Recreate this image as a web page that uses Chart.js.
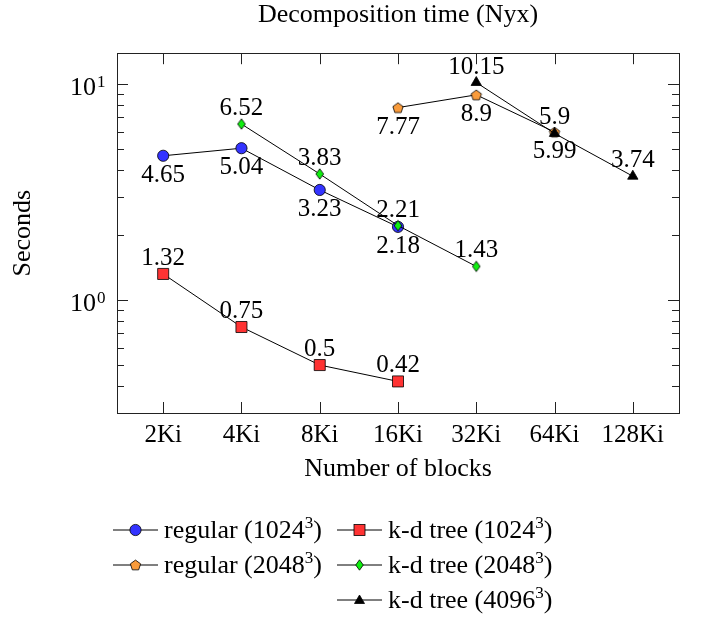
<!DOCTYPE html>
<html>
<head>
<meta charset="utf-8">
<script src="https://cdn.jsdelivr.net/npm/chart.js@4/dist/chart.umd.min.js"></script>
<style>
  html, body { margin: 0; padding: 0; background: #fff; }
  #wrap { position: relative; width: 704px; height: 620px;
          font-family: "Liberation Serif", "Times New Roman", serif; color: #000; }
  #chart { position: absolute; left: 0; top: 0; }
  .leg { position: absolute; height: 30px; display: flex; align-items: center;
         font-size: 26px; white-space: nowrap; }
  .leg svg { margin-right: 6px; flex: none; }
  .leg span { white-space: pre; }
  .leg sup { font-size: 17px; line-height: 0; vertical-align: baseline; position: relative; top: -10px; }
</style>
</head>
<body>
<div id="wrap">
  <canvas id="chart" width="704" height="620"></canvas>
  <div class="leg" style="left:113px; top:515px;"><svg id="lg0" width="45" height="20"></svg><span>regular (1024<sup>3</sup>)</span></div>
  <div class="leg" style="left:337px; top:515px;"><svg id="lg1" width="45" height="20"></svg><span>k-d tree (1024<sup>3</sup>)</span></div>
  <div class="leg" style="left:113px; top:550px;"><svg id="lg2" width="45" height="20"></svg><span>regular (2048<sup>3</sup>)</span></div>
  <div class="leg" style="left:337px; top:550px;"><svg id="lg3" width="45" height="20"></svg><span>k-d tree (2048<sup>3</sup>)</span></div>
  <div class="leg" style="left:337px; top:585px;"><svg id="lg4" width="45" height="20"></svg><span>k-d tree (4096<sup>3</sup>)</span></div>
</div>

<script>
// ─────────────────────────────────────────
// DATA
// ─────────────────────────────────────────

const blocks = ["2Ki", "4Ki", "8Ki", "16Ki", "32Ki", "64Ki", "128Ki"];

const regular1024 = [4.65, 5.04, 3.23, 2.18, null, null, null];
const kdtree1024  = [1.32, 0.75, 0.5, 0.42, null, null, null];
const regular2048 = [null, null, null, 7.77, 8.9, 5.99, null];
const kdtree2048  = [null, 6.52, 3.83, 2.21, 1.43, null, null];
const kdtree4096  = [null, null, null, null, 10.15, 5.9, 3.74];

const yMajorTicks = [1, 10];
const yMinorTicks = [0.4, 0.5, 0.6, 0.7, 0.8, 0.9, 2, 3, 4, 5, 6, 7, 8, 9];

const FONT = "'Liberation Serif', 'Times New Roman', serif";

// ─────────────────────────────────────────
// MARKERS
// ─────────────────────────────────────────

function pentagonPath(ctx, cx, cy, r) {
  ctx.beginPath();
  for (let i = 0; i < 5; i++) {
    const a = -Math.PI / 2 + i * 2 * Math.PI / 5;
    const px = cx + r * Math.cos(a), py = cy + r * Math.sin(a);
    i ? ctx.lineTo(px, py) : ctx.moveTo(px, py);
  }
  ctx.closePath();
}

function makeMarker(kind) {
  const c = document.createElement("canvas");
  c.width = 16; c.height = 16;
  const ctx = c.getContext("2d");
  ctx.lineWidth = 0.8;
  ctx.strokeStyle = "#000";
  if (kind === "pentagon") {
    pentagonPath(ctx, 8, 8.6, 5.4);
    ctx.fillStyle = "#f99b3b";
  } else {
    ctx.beginPath();
    ctx.moveTo(8, 2.8); ctx.lineTo(11.8, 8); ctx.lineTo(8, 13.2); ctx.lineTo(4.2, 8);
    ctx.closePath();
    ctx.fillStyle = "#10ee10";
  }
  ctx.fill(); ctx.stroke();
  return c;
}

const pentagonImg = makeMarker("pentagon");
const diamondImg  = makeMarker("diamond");

// ─────────────────────────────────────────
// PLUGINS: frame, ticks, labels
// ─────────────────────────────────────────

const frame = {
  id: "frame",
  afterDraw(chart) {
    const { ctx, chartArea: a, scales: { x, y } } = chart;
    ctx.save();
    ctx.strokeStyle = "#222";
    ctx.lineWidth = 1;
    ctx.beginPath();

    // x ticks top + bottom
    for (let i = 0; i < blocks.length; i++) {
      const px = Math.round(x.getPixelForValue(i)) + 0.5;
      ctx.moveTo(px, a.top); ctx.lineTo(px, a.top + 11);
      ctx.moveTo(px, a.bottom); ctx.lineTo(px, a.bottom - 11);
    }
    // y ticks left + right
    yMajorTicks.concat(yMinorTicks).forEach(v => {
      const len = yMajorTicks.includes(v) ? 11 : 7;
      const py = Math.round(y.getPixelForValue(v)) + 0.5;
      ctx.moveTo(a.left, py); ctx.lineTo(a.left + len, py);
      ctx.moveTo(a.right, py); ctx.lineTo(a.right - len, py);
    });
    ctx.stroke();

    ctx.strokeRect(Math.round(a.left) + 0.5, Math.round(a.top) + 0.5,
                   Math.round(a.right - a.left), Math.round(a.bottom - a.top));

    // y tick labels 10^0, 10^1
    ctx.fillStyle = "#000";
    yMajorTicks.forEach(v => {
      const py = y.getPixelForValue(v);
      ctx.font = "26px " + FONT;
      ctx.textAlign = "right";
      ctx.textBaseline = "alphabetic";
      ctx.fillText("10", 96, py + 11);
      ctx.font = "17px " + FONT;
      ctx.textAlign = "left";
      ctx.fillText(String(Math.round(Math.log10(v))), 97, py + 3);
    });
    ctx.restore();
  }
};

const pointLabels = {
  id: "pointLabels",
  afterDatasetsDraw(chart) {
    const { ctx, scales: { x, y } } = chart;
    ctx.save();
    ctx.font = "25px " + FONT;
    ctx.fillStyle = "#000";
    ctx.textAlign = "center";
    ctx.textBaseline = "alphabetic";
    chart.data.datasets.forEach(ds => {
      ds.data.forEach(p => {
        const px = x.getPixelForValue(p.x);
        const py = y.getPixelForValue(p.y);
        const dy = ds.labelPos === "below" ? 26 : -9;
        ctx.fillText(String(p.y), px, py + dy);
      });
    });
    ctx.restore();
  }
};

// ─────────────────────────────────────────
// CHART
// ─────────────────────────────────────────

function points(values) {
  return values.map((v, i) => ({ x: i, y: v })).filter(p => p.y !== null);
}

const datasets = [
  { label: "regular (1024³)", data: points(regular1024), pointStyle: "circle",
    pointRadius: 5.6, backgroundColor: "#3333ff", labelPos: "below", order: 5 },
  { label: "k-d tree (1024³)", data: points(kdtree1024), pointStyle: "rect",
    pointRadius: 7.8, backgroundColor: "#ff3333", labelPos: "above", order: 4 },
  { label: "regular (2048³)", data: points(regular2048), pointStyle: pentagonImg,
    pointRadius: 6, backgroundColor: "#f99b3b", labelPos: "below", order: 3 },
  { label: "k-d tree (2048³)", data: points(kdtree2048), pointStyle: diamondImg,
    pointRadius: 6, backgroundColor: "#10ee10", labelPos: "above", order: 2 },
  { label: "k-d tree (4096³)", data: points(kdtree4096), pointStyle: "triangle",
    pointRadius: 6, backgroundColor: "#000", labelPos: "above", order: 1 }
].map(d => Object.assign({
  borderColor: "#000",
  borderWidth: 1,
  pointBorderColor: "#000",
  pointBorderWidth: 0.8,
  pointBackgroundColor: d.backgroundColor,
  tension: 0,
  fill: false
}, d));

new Chart(document.getElementById("chart"), {
  type: "line",
  data: { datasets },
  options: {
    responsive: false,
    animation: false,
    layout: { padding: { left: 0, right: 25, top: 0, bottom: 127 } },
    plugins: {
      legend: { display: false },
      tooltip: { enabled: false },
      title: {
        display: true,
        text: "Decomposition time (Nyx)",
        fullSize: false,
        color: "#000",
        font: { family: FONT, size: 26, weight: "normal" },
        padding: { top: 0, bottom: 22 }
      }
    },
    scales: {
      x: {
        type: "linear",
        min: -0.59,
        max: 6.59,
        afterBuildTicks: s => { s.ticks = blocks.map((b, i) => ({ value: i })); },
        afterFit: s => { s.height = 80; },
        grid: { display: false, drawTicks: false },
        border: { display: false },
        ticks: {
          autoSkip: false, maxRotation: 0, padding: 7, color: "#000",
          font: { family: FONT, size: 25 },
          callback: v => blocks[v]
        },
        title: {
          display: true, text: "Number of blocks", color: "#000",
          font: { family: FONT, size: 26 },
          padding: { top: 0, bottom: 8 }
        }
      },
      y: {
        type: "logarithmic",
        min: 0.31,
        max: 13.87,
        afterFit: s => { s.width = 117; },
        grid: { display: false },
        border: { display: false },
        ticks: { display: false },
        title: {
          display: true, text: "Seconds", color: "#000",
          font: { family: FONT, size: 26 },
          padding: { top: 8, bottom: 0 }
        }
      }
    }
  },
  plugins: [frame, pointLabels]
});

// ─────────────────────────────────────────
// LEGEND SAMPLES
// ─────────────────────────────────────────

const NS = "http://www.w3.org/2000/svg";
function svgEl(tag, attrs) {
  const e = document.createElementNS(NS, tag);
  for (const k in attrs) e.setAttribute(k, attrs[k]);
  return e;
}
function pentagonPoints(cx, cy, r) {
  const pts = [];
  for (let i = 0; i < 5; i++) {
    const a = -Math.PI / 2 + i * 2 * Math.PI / 5;
    pts.push((cx + r * Math.cos(a)).toFixed(2) + "," + (cy + r * Math.sin(a)).toFixed(2));
  }
  return pts.join(" ");
}

const legendMarkers = [
  ["circle",  { cx: 22.5, cy: 10, r: 5.6, fill: "#3333ff" }],
  ["rect",    { x: 17, y: 4.5, width: 11, height: 11, fill: "#ff3333" }],
  ["polygon", { points: pentagonPoints(22.5, 10.5, 5.4), fill: "#f99b3b" }],
  ["polygon", { points: "22.5,4.8 26.3,10 22.5,15.2 18.7,10", fill: "#10ee10" }],
  ["polygon", { points: "22.5,5 27.5,13.5 17.5,13.5", fill: "#000" }]
];

legendMarkers.forEach(([tag, attrs], i) => {
  const svg = document.getElementById("lg" + i);
  svg.appendChild(svgEl("line", { x1: 0, y1: 10, x2: 45, y2: 10, stroke: "#000", "stroke-width": 1 }));
  svg.appendChild(svgEl(tag, Object.assign({ stroke: "#000", "stroke-width": 0.8 }, attrs)));
});
</script>
</body>
</html>
